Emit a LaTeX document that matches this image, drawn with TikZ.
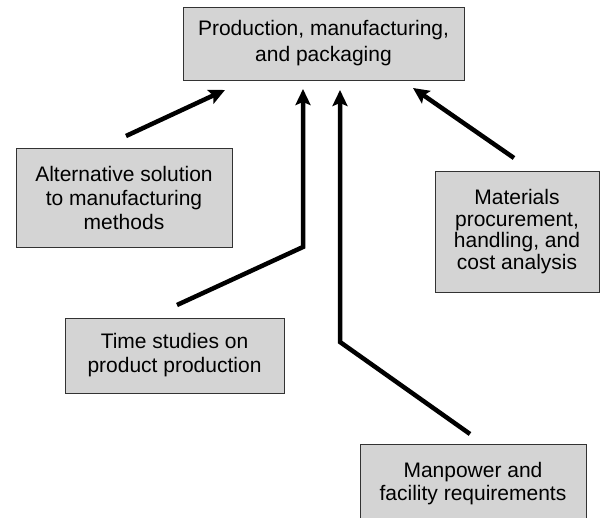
\documentclass[tikz,border=0pt]{standalone}
\usepackage{fontspec}
\setmainfont{Liberation Sans}
\usetikzlibrary{arrows.meta}

\begin{document}
\begin{tikzpicture}[x=1pt, y=-1pt,
  box/.style={draw=black!80, line width=0.8pt, fill=black!17, align=center, inner sep=0pt,
    font=\fontsize{21}{24}\selectfont},
  feed/.style={line width=4.5pt, -{Stealth[length=16pt, width=15pt, inset=3pt]}}]
  \useasboundingbox (0,0) rectangle (600,518);
  % boxes
  \node[box, minimum width=281pt, minimum height=73pt, font=\fontsize{21}{26}\selectfont]
    (prod) at (323.5,43.5) {Production, manufacturing,\\and packaging};
  \node[box, minimum width=216pt, minimum height=99pt] (alt) at (124,197.5)
    {Alternative solution\\to manufacturing\\methods};
  \node[box, minimum width=164pt, minimum height=121pt, font=\fontsize{21}{21.5}\selectfont]
    (mat) at (517,231.5) {Materials\\procurement,\\handling, and\\cost analysis};
  \node[box, minimum width=219pt, minimum height=75pt] (time) at (174.5,355.5)
    {Time studies on\\product production};
  \node[box, minimum width=226pt, minimum height=80pt, font=\fontsize{21}{23}\selectfont]
    (man) at (473,484) {Manpower and\\facility requirements};
  % arrow ends
  \coordinate (alt-tail) at (126,136);
  \coordinate (alt-tip) at (225,90);
  \coordinate (time-tail) at (177,305);
  \coordinate (time-bend) at (303,247);
  \coordinate (time-tip) at (303,89);
  \coordinate (man-tail) at (470,434);
  \coordinate (man-bend) at (340,342);
  \coordinate (man-tip) at (340,90);
  \coordinate (mat-tail) at (514,158);
  \coordinate (mat-tip) at (413,88);
  % arrows
  \draw[feed] (alt-tail) -- (alt-tip);
  \draw[feed] (time-tail) -- (time-bend) -- (time-tip);
  \draw[feed] (man-tail) -- (man-bend) -- (man-tip);
  \draw[feed] (mat-tail) -- (mat-tip);
\end{tikzpicture}
\end{document}
